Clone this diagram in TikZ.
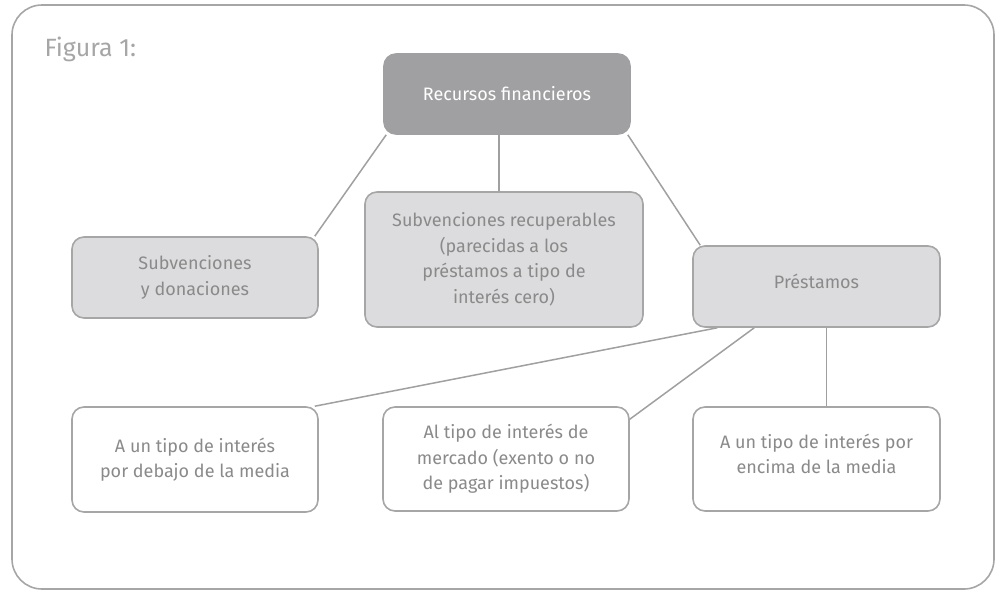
\documentclass[tikz,border=0pt]{standalone}
\usepackage{fontspec}
\setmainfont{Fira Sans}
\usetikzlibrary{backgrounds}
\definecolor{framegray}{HTML}{A6A6A6}
\definecolor{linegray}{HTML}{A0A0A0}
\definecolor{darkfill}{HTML}{A0A0A2}
\definecolor{lightfill}{HTML}{DCDCDE}
\definecolor{textgray}{HTML}{8A8A8A}
\begin{document}
\begin{tikzpicture}[x=1pt,y=-1pt,
  box/.style={draw=framegray, line width=1.6pt, rounded corners=12pt, align=center,
    text=textgray, font=\fontsize{18}{25.5}\selectfont, inner sep=0pt},
  topbox/.style={box, fill=darkfill, draw=darkfill, text=white},
  graybox/.style={box, fill=lightfill},
  whitebox/.style={box, fill=white},
  conn/.style={draw=linegray, line width=1.5pt}]
\useasboundingbox (0,0) rectangle (1000,592);
\draw[framegray, line width=1.6pt, rounded corners=30pt] (12,5) rectangle (994,589);
\node[anchor=west, text=framegray, font=\fontsize{25}{30}\selectfont] (fig) at (41,49) {Figura 1:};

\node[topbox, minimum width=246pt, minimum height=80pt] (top) at (507,94) {Recursos financieros};
\node[graybox, minimum width=246pt, minimum height=81pt] (sd) at (195,277.5) {Subvenciones\\y donaciones};
\node[graybox, minimum width=278pt, minimum height=135pt] (mid) at (504,259.5) {Subvenciones recuperables\\(parecidas a los\\préstamos a tipo de\\interés cero)};
\node[graybox, minimum width=247pt, minimum height=81pt, text depth=10pt] (pr) at (816.5,286.5) {Préstamos};
\node[whitebox, minimum width=246pt, minimum height=105pt] (bl) at (195,459.5) {A un tipo de interés\\por debajo de la media};
\node[whitebox, minimum width=246pt, minimum height=104pt] (bm) at (506,459) {Al tipo de interés de\\mercado (exento o no\\de pagar impuestos)};
\node[whitebox, minimum width=247pt, minimum height=104pt, text depth=10pt] (br) at (816.5,459) {A un tipo de interés por\\encima de la media};

\begin{scope}[on background layer]
\draw[conn] ([xshift=3pt]top.south west) -- ([xshift=-4pt]sd.north east);
\draw[conn] ([xshift=-8pt]top.south) -- ([xshift=-8pt]top.south |- mid.north);
\draw[conn] ([xshift=-3pt]top.south east) -- ([xshift=8pt]pr.north west);
\draw[conn] ([xshift=25pt]pr.south west) -- ([xshift=-4pt]bl.north east);
\draw[conn] ([xshift=62pt]pr.south west) -- ([yshift=-13pt]bm.north east);
\draw[conn] ([xshift=10pt]pr.south) -- ([xshift=10pt]pr.south |- br.north);
\end{scope}
\end{tikzpicture}
\end{document}
